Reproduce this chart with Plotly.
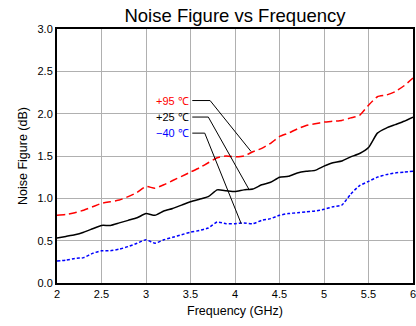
import plotly.graph_objects as go

freq = [2.0, 2.1, 2.2, 2.3, 2.4, 2.5, 2.6, 2.7, 2.8, 2.9, 3.0, 3.1, 3.2, 3.3, 3.4, 3.5,
        3.6, 3.7, 3.8, 3.9, 4.0, 4.1, 4.2, 4.3, 4.4, 4.5, 4.6, 4.7, 4.8, 4.9, 5.0, 5.1,
        5.2, 5.3, 5.4, 5.5, 5.6, 5.7, 5.8, 5.9, 6.0]
nf_p95 = [0.80, 0.81, 0.83, 0.86, 0.90, 0.94, 0.96, 0.98, 1.02, 1.07, 1.14, 1.12, 1.16, 1.21,
          1.26, 1.31, 1.36, 1.42, 1.48, 1.50, 1.49, 1.50, 1.55, 1.59, 1.65, 1.73, 1.77, 1.82,
          1.86, 1.88, 1.90, 1.91, 1.92, 1.95, 1.98, 2.10, 2.20, 2.22, 2.26, 2.33, 2.42]
nf_p25 = [0.53, 0.55, 0.57, 0.60, 0.64, 0.68, 0.68, 0.71, 0.74, 0.77, 0.82, 0.80, 0.85, 0.88,
          0.92, 0.96, 0.99, 1.02, 1.10, 1.09, 1.08, 1.10, 1.11, 1.16, 1.19, 1.25, 1.26, 1.30,
          1.32, 1.33, 1.38, 1.42, 1.44, 1.49, 1.53, 1.60, 1.77, 1.83, 1.87, 1.91, 1.96]
nf_m40 = [0.26, 0.27, 0.29, 0.30, 0.35, 0.38, 0.38, 0.40, 0.43, 0.47, 0.51, 0.47, 0.51, 0.54,
          0.57, 0.60, 0.62, 0.65, 0.72, 0.70, 0.70, 0.71, 0.70, 0.74, 0.76, 0.80, 0.82, 0.83,
          0.84, 0.85, 0.87, 0.90, 0.92, 1.05, 1.15, 1.20, 1.25, 1.28, 1.30, 1.31, 1.32]

labels = ["+95 \u2103", "+25 \u2103", "\u221240 \u2103"]
label_colors = ["#ff0000", "#000000", "#0000ff"]
# label anchor (x, y), elbow x, target point on curve (x, y)
label_pos = [(3.50, 2.155), (3.50, 1.96), (3.50, 1.77)]
elbow_x = [3.72, 3.70, 3.66]
targets = [(4.18, 1.554), (4.16, 1.10), (4.07, 0.70)]

fig = go.Figure()
fig.add_trace(go.Scatter(x=freq, y=nf_p95, mode="lines",
                         line=dict(color="#ff0000", width=1.5, dash="8px,4px", shape="spline", smoothing=0.5)))
fig.add_trace(go.Scatter(x=freq, y=nf_p25, mode="lines",
                         line=dict(color="#000000", width=1.5, shape="spline", smoothing=0.5)))
fig.add_trace(go.Scatter(x=freq, y=nf_m40, mode="lines",
                         line=dict(color="#0000ff", width=1.5, dash="3px,2px", shape="spline", smoothing=0.5)))

for (lx, ly), ex, (tx, ty), txt, c in zip(label_pos, elbow_x, targets, labels, label_colors):
    fig.add_annotation(x=lx, y=ly, text=txt, showarrow=False, xanchor="right", yanchor="middle",
                       font=dict(size=11, color=c, family="Liberation Sans, Arial, sans-serif"))
    fig.add_shape(type="path", path=f"M {lx+0.02},{ly} L {ex},{ly} L {tx},{ty}",
                  line=dict(color="#000000", width=1), xref="x", yref="y")

fig.update_layout(
    width=416, height=326,
    margin=dict(l=57, r=0, t=29, b=43),
    paper_bgcolor="white", plot_bgcolor="white",
    showlegend=False,
    font=dict(family="Liberation Sans, Arial, sans-serif", color="#000000"),
    title=dict(text="Noise Figure vs Frequency", x=0.5, xref="paper", xanchor="center",
               y=1 - 16 / 326, yref="container", yanchor="middle",
               font=dict(size=18.5, color="#000000")),
)
fig.update_xaxes(range=[2, 6], tickvals=[2, 2.5, 3, 3.5, 4, 4.5, 5, 5.5, 6],
                 ticktext=["2", "2.5", "3", "3.5", "4", "4.5", "5", "5.5", "6"],
                 ticklabeloverflow="allow",
                 showgrid=True, gridcolor="#b0b0b0", gridwidth=1,
                 showline=True, linecolor="#000000", linewidth=2, mirror=True,
                 ticks="", tickfont=dict(size=11), zeroline=False,
                 title=dict(text="Frequency (GHz)", font=dict(size=12.5), standoff=7))
fig.update_yaxes(range=[0, 3], tickvals=[0, 0.5, 1, 1.5, 2, 2.5, 3],
                 ticktext=["0.0", "0.5", "1.0", "1.5", "2.0", "2.5", "3.0"],
                 showgrid=True, gridcolor="#b0b0b0", gridwidth=1,
                 showline=True, linecolor="#000000", linewidth=2, mirror=True,
                 ticks="", tickfont=dict(size=11), zeroline=False,
                 title=dict(text="Noise Figure (dB)", font=dict(size=12.5), standoff=7))

fig.write_html("out.html")
